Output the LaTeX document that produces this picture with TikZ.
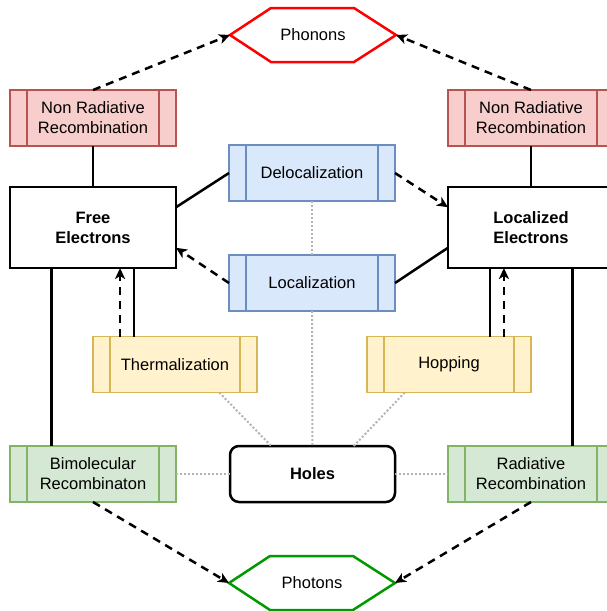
\documentclass[tikz,border=0pt]{standalone}
\usepackage{fontspec}
\setmainfont{Liberation Sans}
\usetikzlibrary{arrows.meta,calc}
\definecolor{redF}{HTML}{F8CECC}
\definecolor{redD}{HTML}{B85450}
\definecolor{bluF}{HTML}{DAE8FC}
\definecolor{bluD}{HTML}{6C8EBF}
\definecolor{yelF}{HTML}{FFF2CC}
\definecolor{yelD}{HTML}{D6B656}
\definecolor{grnF}{HTML}{D5E8D4}
\definecolor{grnD}{HTML}{82B366}
\definecolor{dotG}{HTML}{B3B3B3}
\definecolor{phoR}{HTML}{FF0000}
\definecolor{phoG}{HTML}{009900}
\newcommand\procstrips[1]{\draw[#1, line width=1.5pt]
  ([xshift=17pt]path picture bounding box.north west) -- ([xshift=17pt]path picture bounding box.south west)
  ([xshift=-17pt]path picture bounding box.north east) -- ([xshift=-17pt]path picture bounding box.south east);}
\begin{document}
\begin{tikzpicture}[x=1pt,y=-1pt,
  font=\fontsize{16.5}{20}\selectfont,
  procbox/.style={rectangle, minimum width=166pt, minimum height=56pt, inner sep=0pt, outer sep=0pt, line width=1.5pt, align=center},
  redp/.style={procbox, fill=redF, draw=redD, path picture={\procstrips{redD}}},
  blup/.style={procbox, fill=bluF, draw=bluD, path picture={\procstrips{bluD}}},
  yelp/.style={procbox, minimum width=164pt, fill=yelF, draw=yelD, path picture={\procstrips{yelD}}},
  grnp/.style={procbox, fill=grnF, draw=grnD, path picture={\procstrips{grnD}}},
  statebox/.style={rectangle, draw=black, fill=white, line width=2.8pt, minimum width=166pt, minimum height=81pt, inner sep=0pt, outer sep=0pt, align=center, font=\fontsize{16.5}{20}\selectfont\bfseries},
  hexnode/.style={minimum width=166pt, minimum height=54pt, inner sep=0pt, outer sep=0pt},
  conn/.style={line width=2.5pt, black},
  dasharrow/.style={line width=2.5pt, black, dash pattern=on 8pt off 6pt, -{Stealth[length=11pt,width=10pt,inset=3pt]}},
  dotline/.style={line width=2pt, dotG, dash pattern=on 2pt off 2pt}
]
\useasboundingbox (0,0) rectangle (607,611);

% hexagons
\node[hexnode] (phonons) at (313,35) {Phonons};
\draw[phoR, line width=2.5pt, line join=miter]
  (phonons.west) -- ($(phonons.north west)+(41,0)$) -- ($(phonons.north east)+(-42,0)$) -- (phonons.east)
  -- ($(phonons.south east)+(-42,0)$) -- ($(phonons.south west)+(41,0)$) -- cycle;
\node[hexnode] (photons) at (312,583) {Photons};
\draw[phoG, line width=2.5pt, line join=miter]
  (photons.west) -- ($(photons.north west)+(41,0)$) -- ($(photons.north east)+(-42,0)$) -- (photons.east)
  -- ($(photons.south east)+(-42,0)$) -- ($(photons.south west)+(41,0)$) -- cycle;

% boxes
\node[redp] (nrL) at (93,118) {Non Radiative\\Recombination};
\node[redp] (nrR) at (531,118) {Non Radiative\\Recombination};
\node[statebox] (fe) at (93,227.5) {Free\\Electrons};
\node[statebox] (le) at (531,227.5) {Localized\\Electrons};
\node[blup] (deloc) at (312,173) {Delocalization};
\node[blup] (loc) at (312,283) {Localization};
\node[yelp] (therm) at (175,364.5) {Thermalization};
\node[yelp] (hop) at (449,364.5) {Hopping};
\node[grnp] (bim) at (93,474) {Bimolecular\\Recombinaton};
\node[grnp] (rad) at (531,474) {Radiative\\Recombination};
\node[rectangle, rounded corners=9pt, draw=black, fill=white, line width=2.5pt, minimum width=165pt, minimum height=56pt, inner sep=0pt, outer sep=0pt, font=\fontsize{16.5}{20}\selectfont\bfseries] (holes) at (312.5,474) {Holes};

% anchor coordinates
\coordinate (feR1) at ($(fe.north east)!0.25!(fe.south east)$);
\coordinate (feR3) at ($(fe.north east)!0.75!(fe.south east)$);
\coordinate (leL1) at ($(le.north west)!0.25!(le.south west)$);
\coordinate (leL3) at ($(le.north west)!0.75!(le.south west)$);
\coordinate (feB) at ($(fe.south west)!0.25!(fe.south east)$);
\coordinate (bimT) at ($(bim.north west)!0.25!(bim.north east)$);
\coordinate (leB) at ($(le.south west)!0.75!(le.south east)$);
\coordinate (radT) at ($(rad.north west)!0.75!(rad.north east)$);
\coordinate (thS) at ($(therm.north west)!0.25!(therm.north east)$);
\coordinate (thD) at ($(therm.north west)!0.165!(therm.north east)$);
\coordinate (hoS) at ($(hop.north west)!0.75!(hop.north east)$);
\coordinate (hoD) at ($(hop.north west)!0.835!(hop.north east)$);
\coordinate (thB) at ($(therm.south west)!0.77!(therm.south east)$);
\coordinate (hoB) at ($(hop.south west)!0.23!(hop.south east)$);
\coordinate (hoT1) at ($(holes.north west)!0.25!(holes.north east)$);
\coordinate (hoT3) at ($(holes.north west)!0.75!(holes.north east)$);

% dotted links
\draw[dotline] (deloc.south) -- (loc.north);
\draw[dotline] (loc.south) -- (holes.north);
\draw[dotline] (thB) -- (hoT1);
\draw[dotline] (hoB) -- (hoT3);
\draw[dotline] (bim.east) -- (holes.west);
\draw[dotline] (holes.east) -- (rad.west);

% solid links
\draw[conn] (nrL.south) -- (fe.north);
\draw[conn] (nrR.south) -- (le.north);
\draw[conn] (feR1) -- (deloc.west);
\draw[conn] (loc.east) -- (leL3);
\draw[conn] (feB) -- (bimT);
\draw[conn] (leB) -- (radT);
\draw[conn] (thS) -- (thS |- fe.south);
\draw[conn] (hoS) -- (hoS |- le.south);

% dashed arrows
\draw[dasharrow] (loc.west) -- (feR3);
\draw[dasharrow] (deloc.east) -- (leL1);
\draw[dasharrow] (thD) -- (thD |- fe.south);
\draw[dasharrow] (hoD) -- (hoD |- le.south);
\draw[dasharrow] (nrL.north) -- (phonons.west);
\draw[dasharrow] (nrR.north) -- (phonons.east);
\draw[dasharrow] (bim.south) -- (photons.west);
\draw[dasharrow] (rad.south) -- (photons.east);
\end{tikzpicture}
\end{document}
